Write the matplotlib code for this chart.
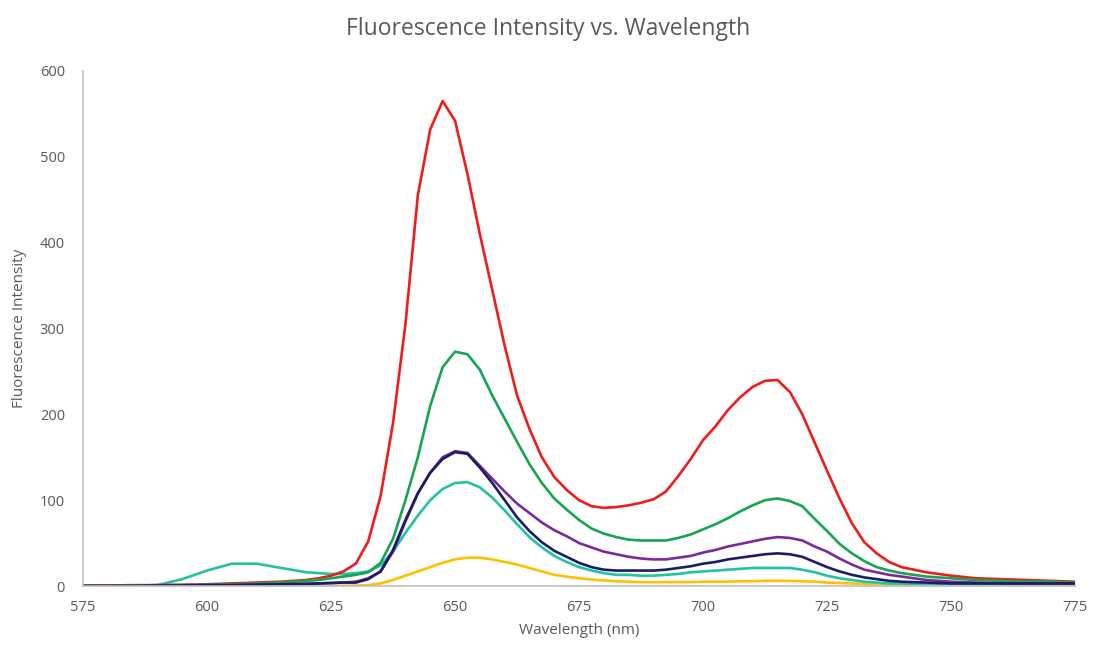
import numpy as np
import matplotlib.pyplot as plt

# ── Data ──
wavelength = [575, 580, 585, 590, 595, 600, 605, 610, 615, 620,
              622.5, 625, 627.5, 630, 632.5, 635, 637.5, 640, 642.5, 645,
              647.5, 650, 652.5, 655, 657.5, 660, 662.5, 665, 667.5, 670,
              672.5, 675, 677.5, 680, 682.5, 685, 687.5, 690, 692.5, 695,
              697.5, 700, 702.5, 705, 707.5, 710, 712.5, 715, 717.5, 720,
              722.5, 725, 727.5, 730, 732.5, 735, 737.5, 740,
              745, 750, 755, 760, 765, 770, 775]

red = [0.5, 0.5, 1, 1, 1.5, 2, 3, 4, 5, 7,
       9, 12, 17, 26, 52, 105, 190, 305, 455, 532,
       565, 542, 480, 410, 345, 280, 222, 183, 150, 127,
       112, 100, 93, 91, 92, 94, 97, 101, 110, 128,
       148, 170, 186, 205, 220, 232, 239, 240, 226, 200,
       167, 134, 102, 73, 51, 38, 28, 22,
       16, 12, 9, 8, 7, 6, 5]

green = [0, 0, 0.5, 1, 1, 1.5, 2, 3, 4, 6,
         7, 9, 11, 13, 16, 27, 55, 100, 150, 210,
         255, 273, 270, 252, 222, 195, 168, 142, 120, 102,
         89, 77, 67, 61, 57, 54, 53, 53, 53, 56,
         60, 66, 72, 79, 87, 94, 100, 102, 99, 93,
         78, 64, 49, 38, 29, 22, 18, 15,
         11, 9, 7, 6, 5, 5, 4]

purple = [0, 0, 0, 0.5, 0.5, 1, 1, 1.5, 2, 2.5,
          3, 3.5, 4, 5, 9, 17, 40, 75, 108, 132,
          150, 157, 155, 140, 125, 110, 96, 85, 74, 65,
          58, 50, 45, 40, 37, 34, 32, 31, 31, 33,
          35, 39, 42, 46, 49, 52, 55, 57, 56, 53,
          46, 40, 32, 25, 19, 16, 13, 11,
          7, 5, 4, 3, 3, 3, 3]

navy = [0, 0, 0, 0.5, 0.5, 1, 1, 1.5, 2, 2.5,
        3, 3.5, 4, 4, 8, 17, 42, 77, 108, 132,
        148, 156, 154, 138, 120, 100, 80, 64, 51, 41,
        34, 27, 22, 19, 18, 18, 18, 18, 19, 21,
        23, 26, 28, 31, 33, 35, 37, 38, 37, 34,
        28, 22, 17, 13, 10, 8, 6, 5,
        4, 3, 3, 3, 3, 3, 3]

teal = [0, 0, 0.5, 1, 8, 18, 26, 26, 21, 16,
        15, 14, 14, 15, 17, 24, 40, 62, 82, 100,
        113, 120, 121, 115, 103, 88, 72, 57, 45, 35,
        28, 22, 18, 15, 13, 13, 12, 12, 13, 14,
        16, 17, 18, 19, 20, 21, 21, 21, 21, 19,
        16, 12, 9, 7, 5, 4, 3, 3,
        2, 2, 2, 2, 2, 2, 2]

yellow = [0, 0, 0, 0, 0, 0, 0, 0, 0, 0,
          0, 0, 0.3, 0.5, 1, 3, 7, 12, 17, 22,
          27, 31, 33, 33, 31, 28, 25, 21, 17, 13,
          11, 9, 7.5, 6.5, 5.5, 5, 4.5, 4.5, 4.5, 4.5,
          4.5, 5, 5, 5, 5.5, 5.5, 6, 6, 6, 5.5,
          5, 4, 3.5, 3, 2.5, 2, 1.5, 1.5,
          1, 0.5, 0.5, 0.5, 0.5, 0.5, 0.5]

# ── Plot ──
text_grey = '#595959'
fig = plt.figure(figsize=(10.96, 6.53), dpi=100)
ax = fig.add_axes([0.0757, 0.1026, 0.9053, 0.7887])

series = [
    (yellow, '#FFC000'),
    (teal, '#22C3A3'),
    (red, '#F21B1B'),
    (green, '#16A550'),
    (purple, '#7B2A9E'),
    (navy, '#1C1E64'),
]
for vals, col in series:
    ax.plot(wavelength, vals, color=col, lw=1.9, solid_joinstyle='round')

ax.set_xlim(575, 775)
ax.set_ylim(0, 600)
ax.set_xticks(np.arange(575, 776, 25))
ax.set_yticks(np.arange(0, 601, 100))

for side in ['top', 'right']:
    ax.spines[side].set_visible(False)
for side in ['left', 'bottom']:
    ax.spines[side].set_color('#BFBFBF')
    ax.spines[side].set_linewidth(1.2)

ax.tick_params(axis='both', length=0, labelsize=10.5, labelcolor=text_grey)
ax.tick_params(axis='y', pad=13)
ax.tick_params(axis='x', pad=10)
for lab in ax.get_xticklabels() + ax.get_yticklabels():
    lab.set_family('Open Sans')

ax.set_xlabel('Wavelength (nm)', fontsize=11, color=text_grey,
              family='Open Sans', labelpad=6)
ax.set_ylabel('Fluorescence Intensity', fontsize=11, color=text_grey,
              family='Open Sans', labelpad=9)
fig.text(0.5, 0.955, 'Fluorescence Intensity vs. Wavelength', ha='center',
         va='center', fontsize=16.5, color=text_grey, family='Open Sans')

plt.savefig('out.png', dpi=100)
